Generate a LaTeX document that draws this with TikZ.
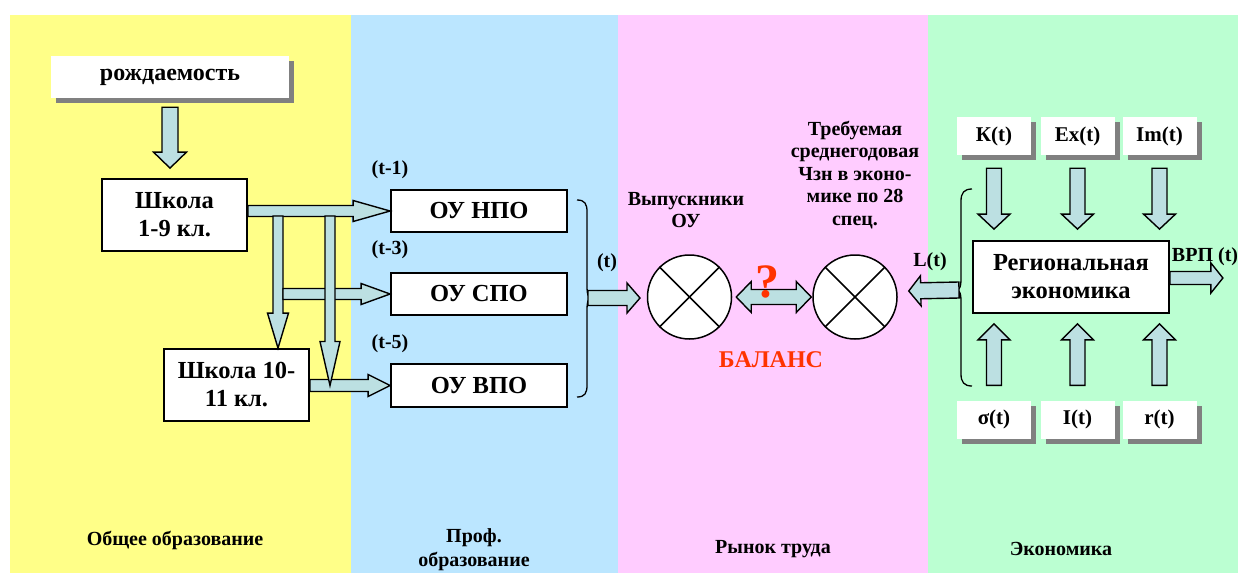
\documentclass[tikz,border=0pt]{standalone}
\usepackage{fontspec}
\setmainfont{Liberation Serif}
\usetikzlibrary{calc,shadows}
\definecolor{pyellow}{HTML}{FFFF88}
\definecolor{pblue}{HTML}{BBE6FF}
\definecolor{ppink}{HTML}{FFCCFF}
\definecolor{pgreen}{HTML}{BBFFD2}
\definecolor{afill}{HTML}{BCE0E2}
\definecolor{shgray}{HTML}{808080}
\definecolor{bred}{HTML}{FF3300}
\tikzset{
  boxA/.style={draw, line width=1.8pt, fill=white, font=\fontsize{24.5}{28}\selectfont\bfseries, align=center, inner sep=0pt},
  shbox/.style={fill=white, drop shadow={shadow xshift=5pt, shadow yshift=-5pt, fill=shgray, opacity=1}, inner sep=0pt, align=center},
  lbl/.style={font=\fontsize{20}{22.5}\selectfont\bfseries, align=center, inner sep=0pt},
  fat/.style={draw, line width=1.4pt, fill=afill, line join=miter},
  xcirc/.style={circle, draw, line width=1.5pt, fill=white, minimum size=84pt, inner sep=0pt},
  bracestyle/.style={draw, line width=1.3pt},
}
% #2 start, #3 end, #4 shaft half width, #5 head half width, #6 head length
\newcommand\fatarrow[6][]{%
  \path[fat,#1] let \p1=#2, \p2=#3, \n1={atan2(\y2-\y1,\x2-\x1)}, \n2={veclen(\x2-\x1,\y2-\y1)} in
    [shift={(\p1)}, rotate=\n1]
    (0,-#4) -- ({\n2-#6},-#4) -- ({\n2-#6},-#5) -- ({\n2},0) -- ({\n2-#6},#5) -- ({\n2-#6},#4) -- (0,#4) -- cycle;}
% double-headed
\newcommand\dblarrow[6][]{%
  \path[fat,#1] let \p1=#2, \p2=#3, \n1={atan2(\y2-\y1,\x2-\x1)}, \n2={veclen(\x2-\x1,\y2-\y1)} in
    [shift={(\p1)}, rotate=\n1]
    (0,0) -- (#6,-#5) -- (#6,-#4) -- ({\n2-#6},-#4) -- ({\n2-#6},-#5) -- ({\n2},0) -- ({\n2-#6},#5) -- ({\n2-#6},#4) -- (#6,#4) -- (#6,#5) -- cycle;}
\begin{document}
\begin{tikzpicture}[x=1pt,y=-1pt]
\useasboundingbox (0,0) rectangle (1238,573);
% panels
\fill[pyellow] (10,15) rectangle (351,573);
\fill[pblue] (351,15) rectangle (618,573);
\fill[ppink] (618,15) rectangle (928,573);
\fill[pgreen] (928,15) rectangle (1238,573);

% left column
\node[shbox, minimum width=238, minimum height=42, font=\fontsize{24}{28}\selectfont\bfseries] (birth) at (170,77) {рождаемость};
\node[boxA, minimum width=145, minimum height=72] (sch1) at (174.5,215) {Школа\\1-9 кл.};
\node[boxA, minimum width=145, minimum height=72] (sch2) at (236.5,385) {Школа 10-\\11 кл.};

% prof column
\node[boxA, minimum width=176, minimum height=42] (npo) at (479,211) {ОУ НПО};
\node[boxA, minimum width=176, minimum height=42] (spo) at (479,294) {ОУ СПО};
\node[boxA, minimum width=176, minimum height=43] (vpo) at (479,385.5) {ОУ ВПО};
\node[lbl] (l1) at (390,170) {(t-1)};
\node[lbl] (l3) at (390,250) {(t-3)};
\node[lbl] (l5) at (390,344) {(t-5)};
\node[lbl] (lt) at (607,263) {(t)};

% junctions
\coordinate (ja) at (278,216);
\coordinate (jb) at (330,216);
\coordinate (b1) at (588,298);
\coordinate (b2) at (959,290);

% arrows left
\fatarrow{($(birth.south)+(0,9)$)}{($(birth.south |- sch1.north)+(0,-10)$)}{8}{16.5}{16}
\fatarrow{(sch1.east |- npo.west)}{(npo.west)}{5.5}{10.5}{37}
\fatarrow{(ja)}{(ja |- sch2.north)}{5}{10.5}{35}
\fatarrow{($(ja |- spo.west)+(5,0)$)}{(spo.west)}{5.5}{10.5}{29}
\fatarrow{(sch2.east |- vpo.west)}{(vpo.west)}{6}{11}{22}
\fatarrow{(jb)}{(jb |- vpo.west)}{5}{10}{44}

% brace 1
\draw[bracestyle] (577,200) .. controls (585,200) and (587,204) .. (587,212) -- (587,287)
  .. controls (587,294) and (588,297) .. (591,298) .. controls (588,299) and (587,302) .. (587,309)
  -- (587,385) .. controls (587,393) and (585,397) .. (577,397);
\fatarrow{(b1)}{(640,298)}{7.5}{15}{13}

% labour market
\node[xcirc] (c1) at (689.5,297) {};
\node[xcirc] (c2) at (855,297) {};
\foreach \cc in {c1,c2}{
  \draw[line width=1.5pt] (\cc.north east) -- (\cc.south west);
  \draw[line width=1.5pt] (\cc.north west) -- (\cc.south east);
}
\dblarrow{($(c1.east)+(4,0)$)}{($(c2.west)+(-1,0)$)}{7.5}{15.5}{15}
\node[font=\fontsize{48}{48}\selectfont\bfseries, text=bred, inner sep=0pt] (q) at (767,282) {?};
\node[font=\fontsize{24}{26}\selectfont\bfseries, text=bred, inner sep=0pt] (bal) at (771,360) {БАЛАНС};
\node[lbl] (grad) at (686,210) {Выпускники\\ОУ};
\node[lbl] (req) at (855,175) {Требуемая\\среднегодовая\\Чзн в эконо-\\мике по 28\\спец.};
\node[lbl] (lL) at (930,262) {L(t)};

% economy
\node[boxA, minimum width=196, minimum height=72] (reg) at (1071,277) {Региональная\\экономика};
\foreach \bx/\xx/\tt in {K/994/К(t), Ex/1077.5/Ex(t), Im/1159.5/Im(t)}{
  \node[shbox, minimum width=74, minimum height=38, font=\fontsize{21}{24}\selectfont\bfseries] (\bx) at (\xx,136) {\tt};
}
\foreach \bx/\xx/\tt in {sig/994/σ(t), I/1077.5/I(t), r/1159.5/r(t)}{
  \node[shbox, minimum width=74, minimum height=38, font=\fontsize{21}{24}\selectfont\bfseries] (\bx) at (\xx,419.5) {\tt};
}
\foreach \bx in {K,Ex,Im}{
  \fatarrow{($(\bx.south)+(0,13)$)}{($(\bx.south |- reg.north)+(0,-11)$)}{7.5}{16}{15}
}
\foreach \bx in {sig,I,r}{
  \fatarrow{($(\bx.north)+(0,-15)$)}{($(\bx.north |- reg.south)+(0,10)$)}{7.5}{16}{16}
}
\coordinate (vrp) at ($(reg.east)+(53,1)$);
\fatarrow{($(reg.east)+(0,1)$)}{(vrp)}{6.5}{15}{12}
\node[lbl] (lv) at (1205,257) {ВРП (t)};

% brace 2
\draw[bracestyle] (972,189) .. controls (964,189) and (961,193) .. (961,201) -- (961,279)
  .. controls (961,286) and (960,289) .. (957,290) .. controls (960,291) and (961,294) .. (961,301)
  -- (961,374) .. controls (961,382) and (964,386) .. (972,386);
\fatarrow{(b2)}{($(c2.east)+(11,-6)$)}{8}{15}{12}

% bottom labels
\node[lbl, font=\fontsize{20}{24}\selectfont\bfseries] (t1) at (175,540) {Общее образование};
\node[lbl, font=\fontsize{20}{24}\selectfont\bfseries] (t2) at (474,550) {Проф.\\образование};
\node[lbl, font=\fontsize{20}{24}\selectfont\bfseries] (t3) at (773,549) {Рынок труда};
\node[lbl, font=\fontsize{20}{24}\selectfont\bfseries] (t4) at (1061,549) {Экономика};
\end{tikzpicture}
\end{document}
